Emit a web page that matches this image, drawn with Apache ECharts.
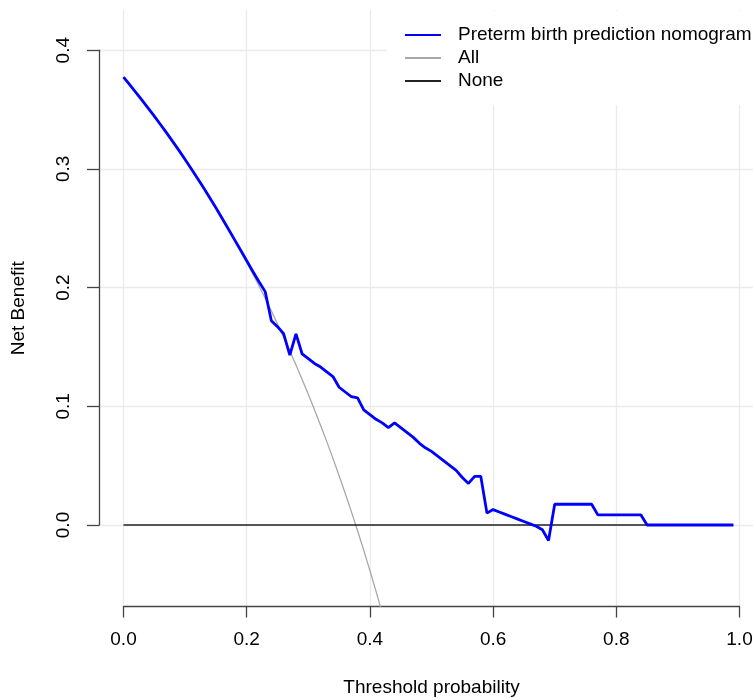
<!DOCTYPE html>
<html>
<head>
<meta charset="utf-8">
<script src="https://cdn.jsdelivr.net/npm/echarts@6/dist/echarts.min.js"></script>
<style>
  html, body { margin: 0; padding: 0; background: #fff; }
  #chart { width: 753px; height: 699px; }
</style>
</head>
<body>
<div id="chart"></div>
<script>
// threshold probabilities
const thresholds = [
  0.00, 0.01, 0.02, 0.03, 0.04, 0.05, 0.06, 0.07, 0.08, 0.09,
  0.10, 0.11, 0.12, 0.13, 0.14, 0.15, 0.16, 0.17, 0.18, 0.19,
  0.20, 0.21, 0.22, 0.23, 0.24, 0.25, 0.26, 0.27, 0.28, 0.29,
  0.30, 0.31, 0.32, 0.33, 0.34, 0.35, 0.36, 0.37, 0.38, 0.39,
  0.40, 0.41, 0.42, 0.43, 0.44, 0.45, 0.46, 0.47, 0.48, 0.49,
  0.50, 0.51, 0.52, 0.53, 0.54, 0.55, 0.56, 0.57, 0.58, 0.59,
  0.60, 0.61, 0.62, 0.63, 0.64, 0.65, 0.66, 0.67, 0.68, 0.69,
  0.70, 0.71, 0.72, 0.73, 0.74, 0.75, 0.76, 0.77, 0.78, 0.79,
  0.80, 0.81, 0.82, 0.83, 0.84, 0.85, 0.86, 0.87, 0.88, 0.89,
  0.90, 0.91, 0.92, 0.93, 0.94, 0.95, 0.96, 0.97, 0.98, 0.99
];

// nomogram net benefit
const modelNB = [
  0.377, 0.3707, 0.3643, 0.3577, 0.351, 0.3442, 0.3372, 0.3301, 0.3228, 0.3154,
  0.3078, 0.300, 0.292, 0.2839, 0.2756, 0.2671, 0.2583, 0.2494, 0.2405, 0.2315,
  0.2225, 0.2135, 0.2048, 0.1965, 0.172, 0.167, 0.161, 0.143, 0.161, 0.144,
  0.140, 0.136, 0.133, 0.129, 0.125, 0.116, 0.112, 0.108, 0.107, 0.097,
  0.093, 0.089, 0.086, 0.082, 0.086, 0.082, 0.078, 0.074, 0.069, 0.065,
  0.062, 0.058, 0.054, 0.050, 0.046, 0.040, 0.035, 0.041, 0.041, 0.010,
  0.013, 0.011, 0.009, 0.007, 0.005, 0.003, 0.001, -0.001, -0.004, -0.013,
  0.0175, 0.0175, 0.0175, 0.0175, 0.0175, 0.0175, 0.0175, 0.0085, 0.0085, 0.0085,
  0.0085, 0.0085, 0.0085, 0.0085, 0.0085, 0, 0, 0, 0, 0,
  0, 0, 0, 0, 0, 0, 0, 0, 0, 0
];

// treat-all net benefit (only the part inside the plot)
const allNB = [
  0.377, 0.3707, 0.3643, 0.3577, 0.351, 0.3442, 0.3372, 0.3301, 0.3228, 0.3154,
  0.3078, 0.300, 0.292, 0.2839, 0.2756, 0.2671, 0.2583, 0.2494, 0.2402, 0.2309,
  0.2213, 0.2114, 0.2013, 0.1909, 0.1803, 0.1693, 0.1581, 0.1466, 0.1347, 0.1225,
  0.110, 0.0971, 0.0838, 0.0702, 0.0561, 0.0415, 0.0266, 0.0111, -0.0048, -0.0213,
  -0.0383, -0.0559, -0.0741
];

// treat-none
const noneNB = thresholds.map(() => 0);

const font = 'Liberation Sans, Arial, Helvetica, sans-serif';
const axisColor = '#444';
const gridColor = '#ebebeb';

const chartsDom = document.getElementById('chart');
const mychart = echarts.init(chartsDom);

const option = {
  animation: false,
  backgroundColor: '#fff',
  textStyle: { fontFamily: font },
  grid: [
    // data region
    { left: 123.5, width: 616, top: 10, height: 596.5, containLabel: false, outerBoundsMode: 'none' },
    // wide region for y axis + horizontal grid lines
    { left: 99, width: 666, top: 50.2, height: 474.8, containLabel: false, outerBoundsMode: 'none' },
  ],
  legend: {
    orient: 'vertical',
    left: 387,
    top: 11,
    padding: [14, 20, 14, 17],
    backgroundColor: '#fff',
    itemWidth: 36,
    itemHeight: 10,
    itemGap: 3,
    selectedMode: false,
    itemStyle: { opacity: 0 },
    data: ['Preterm birth prediction nomogram', 'All', 'None'],
    textStyle: {
      fontSize: 19,
      lineHeight: 20,
      color: '#000',
      fontFamily: font,
      padding: [0, 0, 0, 12],
    },
  },
  xAxis: [
    {
      gridIndex: 0,
      type: 'value',
      min: 0,
      max: 1,
      interval: 0.2,
      name: 'Threshold probability',
      nameLocation: 'middle',
      nameGap: 72,
      nameTextStyle: { fontSize: 19, color: '#000', fontFamily: font },
      axisLine: { show: true, onZero: false, lineStyle: { color: axisColor, width: 1.3 } },
      axisTick: { show: true, length: 11, lineStyle: { color: axisColor, width: 1.3 } },
      axisLabel: {
        fontSize: 19,
        color: '#000',
        margin: 24,
        formatter: (v) => v.toFixed(1),
      },
      splitLine: { show: true, lineStyle: { color: gridColor, width: 1.3 } },
    },
    {
      gridIndex: 1,
      type: 'value',
      min: 0,
      max: 1,
      show: false,
    },
  ],
  yAxis: [
    {
      gridIndex: 0,
      type: 'value',
      min: -0.0686,
      max: 0.4336,
      name: 'Net Benefit',
      nameLocation: 'middle',
      nameGap: 95,
      nameTextStyle: { fontSize: 19, color: '#000', fontFamily: font },
      axisLine: { show: false },
      axisTick: { show: false },
      axisLabel: { show: false },
      splitLine: { show: false },
    },
    {
      gridIndex: 1,
      type: 'value',
      min: 0,
      max: 0.4,
      interval: 0.1,
      axisLine: { show: true, lineStyle: { color: axisColor, width: 1.3 } },
      axisTick: { show: true, length: 12, lineStyle: { color: axisColor, width: 1.3 } },
      axisLabel: {
        fontSize: 19,
        color: '#000',
        rotate: 90,
        margin: 35,
        verticalAlign: 'middle',
        formatter: (v) => v.toFixed(1),
      },
      splitLine: { show: true, lineStyle: { color: gridColor, width: 1.3 } },
    },
  ],
  series: [
    {
      name: 'All',
      type: 'line',
      xAxisIndex: 0,
      yAxisIndex: 0,
      symbol: 'none',
      clip: true,
      data: allNB.map((v, i) => [thresholds[i], v]),
      lineStyle: { color: '#a8a8a8', width: 1.3 },
      itemStyle: { color: '#a8a8a8' },
    },
    {
      name: 'None',
      type: 'line',
      xAxisIndex: 0,
      yAxisIndex: 0,
      symbol: 'none',
      data: noneNB.map((v, i) => [thresholds[i], v]),
      lineStyle: { color: '#222', width: 1.5 },
      itemStyle: { color: '#222' },
    },
    {
      name: 'Preterm birth prediction nomogram',
      type: 'line',
      xAxisIndex: 0,
      yAxisIndex: 0,
      symbol: 'none',
      data: modelNB.map((v, i) => [thresholds[i], v]),
      lineStyle: { color: '#0000ff', width: 2.8 },
      itemStyle: { color: '#0000ff' },
    },
  ],
};

mychart.setOption(option);

window.addEventListener('resize', () => {
  mychart.resize();
});
</script>
</body>
</html>
